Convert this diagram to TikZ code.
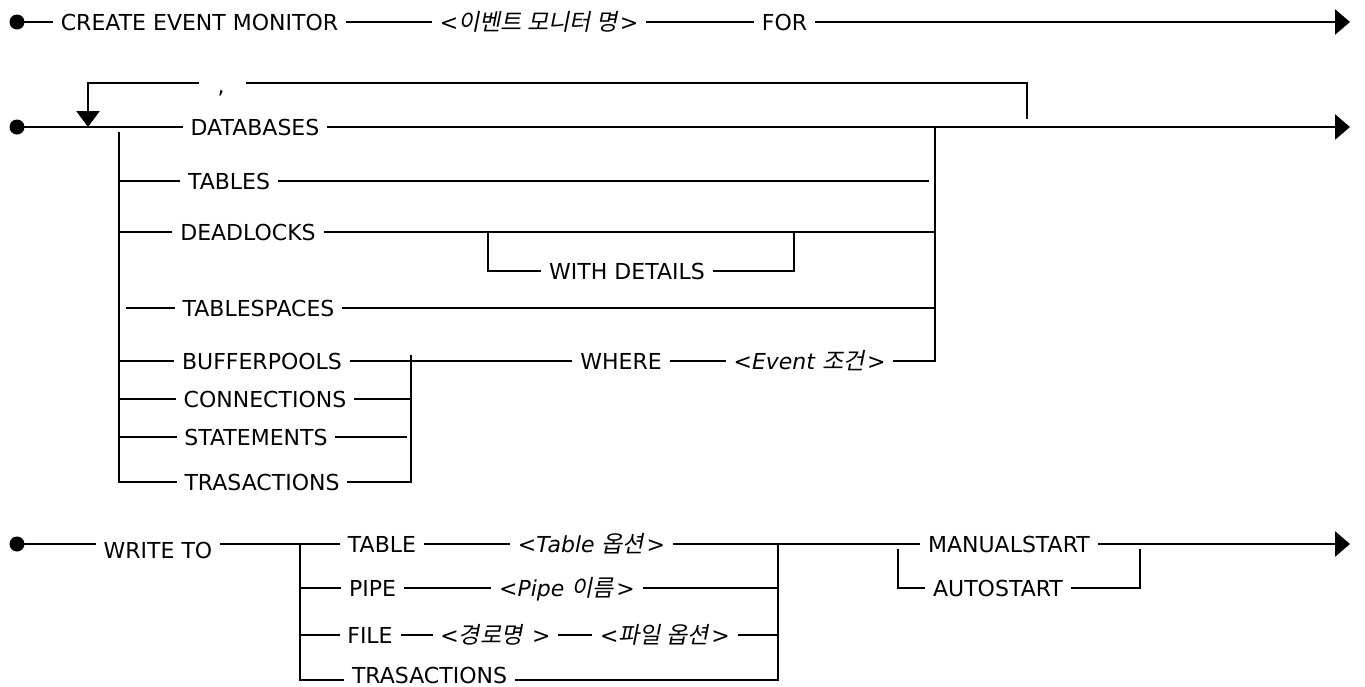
\documentclass[tikz,border=0pt]{standalone}
\usepackage{fontspec}
\setmainfont{DejaVu Sans}[ItalicFont={DejaVu Sans Oblique}]
\newfontfamily\krfont[Scale=1.05,FakeSlant=0.2]{Noto Sans CJK KR}
\newcommand\hg[1]{{\krfont #1}\kern2.5pt\relax}
\usetikzlibrary{arrows.meta}
\tikzset{
  lbl/.style={inner xsep=9pt, inner ysep=0pt, text height=16pt, text depth=0pt,
              font=\fontsize{22}{26}\selectfont},
  ilbl/.style={lbl, font=\fontsize{22}{26}\selectfont\itshape},
  dot/.style={circle, fill, inner sep=0pt, minimum size=15pt},
  rail/.style={line width=2.7pt, line cap=rect},
  arr/.style={rail, -{Triangle[length=15pt,width=25pt]}},
  darr/.style={rail, -{Triangle[length=16pt,width=23pt]}},
}
\begin{document}
\begin{tikzpicture}[x=1pt,y=-1pt]
\useasboundingbox (0,0) rectangle (1365,686);

% ---------- Row 1 ----------
\node[dot] (s1) at (17,22) {};
\node[lbl] (create) at (199.5,22) {CREATE EVENT MONITOR};
\node[ilbl] (evname) at (539,22) {<\hg{이벤트 모니터 명}>};
\node[lbl] (for) at (784.5,22) {FOR};
\coordinate (e1) at (1350,22);
\draw[rail] (s1) -- (create) -- (evname) -- (for);
\draw[arr] (for) -- (e1);

% ---------- Row 2 ----------
\node[dot] (s2) at (17,127) {};
\node[lbl] (db) at (255,127) {DATABASES};
\coordinate (e2) at (1350,127);
\draw[rail] (s2) -- (db);
\draw[arr] (db) -- (e2);

% repeat loop with comma
\coordinate (lpR) at (1027,118);
\coordinate (gapR) at (247,83);
\coordinate (gapL) at (198,83);
\coordinate (lpA) at (88,127);
\node[inner sep=0pt, anchor=base, font=\fontsize{22}{26}\selectfont] (comma) at (221,93) {,};
\draw[rail] (lpR) |- (gapR);
\draw[darr] (gapL) -| (lpA);

% verticals
\coordinate (vl1) at (119,133);
\coordinate (vl2) at (119,482);
\coordinate (vr1) at (935,127);
\coordinate (iv1) at (411,356);
\coordinate (iv2) at (411,482);
\draw[rail] (vl1) -- (vl2);
\draw[rail] (iv1) -- (iv2);

% TABLES
\node[lbl] (tables) at (229,181) {TABLES};
\coordinate (tEnd) at (928,181);
\draw[rail] (tables -| vl1) -- (tables) -- (tEnd);

% DEADLOCKS
\node[lbl] (dl) at (248,232) {DEADLOCKS};
\draw[rail] (dl -| vl1) -- (dl) -- (dl -| vr1);
\coordinate (wdL) at (488,232);
\coordinate (wdR) at (794,232);
\node[lbl] (wd) at (627,271) {WITH DETAILS};
\draw[rail] (wdL) |- (wd);
\draw[rail] (wd) -| (wdR);

% TABLESPACES
\coordinate (tsL) at (127,308);
\node[lbl] (ts) at (258.5,308) {TABLESPACES};
\draw[rail] (tsL) -- (ts) -- (ts -| vr1);

% BUFFERPOOLS / WHERE
\node[lbl] (bp) at (262,361) {BUFFERPOOLS};
\node[lbl] (where) at (621,361) {WHERE};
\node[ilbl] (evc) at (809.5,361) {<Event \hg{조건}>};
\draw[rail] (bp -| vl1) -- (bp) -- (where) -- (evc);
\draw[rail] (evc) -| (vr1);

% CONNECTIONS
\node[lbl] (cn) at (265,399) {CONNECTIONS};
\draw[rail] (cn -| vl1) -- (cn) -- (cn -| iv1);

% STATEMENTS
\node[lbl] (st) at (256,437) {STATEMENTS};
\coordinate (stE) at (406,437);
\draw[rail] (st -| vl1) -- (st) -- (stE);

% TRASACTIONS
\node[lbl] (tr) at (262,482) {TRASACTIONS};
\draw[rail] (tr -| vl1) -- (tr) -- (tr -| iv1);

% ---------- Row 3 ----------
\node[dot] (s3) at (17,544) {};
\node[lbl] (wt) at (158,550) {WRITE TO};
\coordinate (bv1) at (300,544);
\coordinate (bv2) at (300,680);
\coordinate (bw1) at (778,544);
\coordinate (bw2) at (778,680);
\node[lbl] (tb) at (382,544) {TABLE};
\node[ilbl] (tbo) at (591.5,544) {<Table \hg{옵션}>};
\node[lbl] (ms) at (1009,544) {MANUALSTART};
\coordinate (e3) at (1350,544);
\draw[rail] (s3) -- (s3 -| wt.west);
\draw[rail] (wt.east |- s3) -- (tb) -- (tbo) -- (ms);
\draw[arr] (ms) -- (e3);
\draw[rail] (bv1) -- (bv2);
\draw[rail] (bw1) -- (bw2);

\node[lbl] (pp) at (372.5,588) {PIPE};
\node[ilbl] (ppn) at (567,588) {<Pipe \hg{이름}>};
\draw[rail] (pp -| bv1) -- (pp) -- (ppn) -- (ppn -| bw1);

\node[lbl] (fl) at (370,635) {FILE};
\node[ilbl] (fp) at (495.5,635) {<\hg{경로명}\ >};
\node[ilbl] (fo) at (665,635) {<\hg{파일 옵션}>};
\draw[rail] (fl -| bv1) -- (fl) -- (fp) -- (fo) -- (fo -| bw1);

\node[lbl] (tr2) at (429.5,675) {TRASACTIONS};
\draw[rail] (bv2) -- (tr2.west |- bv2);
\draw[rail] (tr2.east |- bw2) -- (bw2);

\coordinate (asL) at (898,550);
\coordinate (asR) at (1140,550);
\node[lbl] (as) at (998,588) {AUTOSTART};
\draw[rail] (asL) |- (as);
\draw[rail] (as) -| (asR);
\end{tikzpicture}
\end{document}
